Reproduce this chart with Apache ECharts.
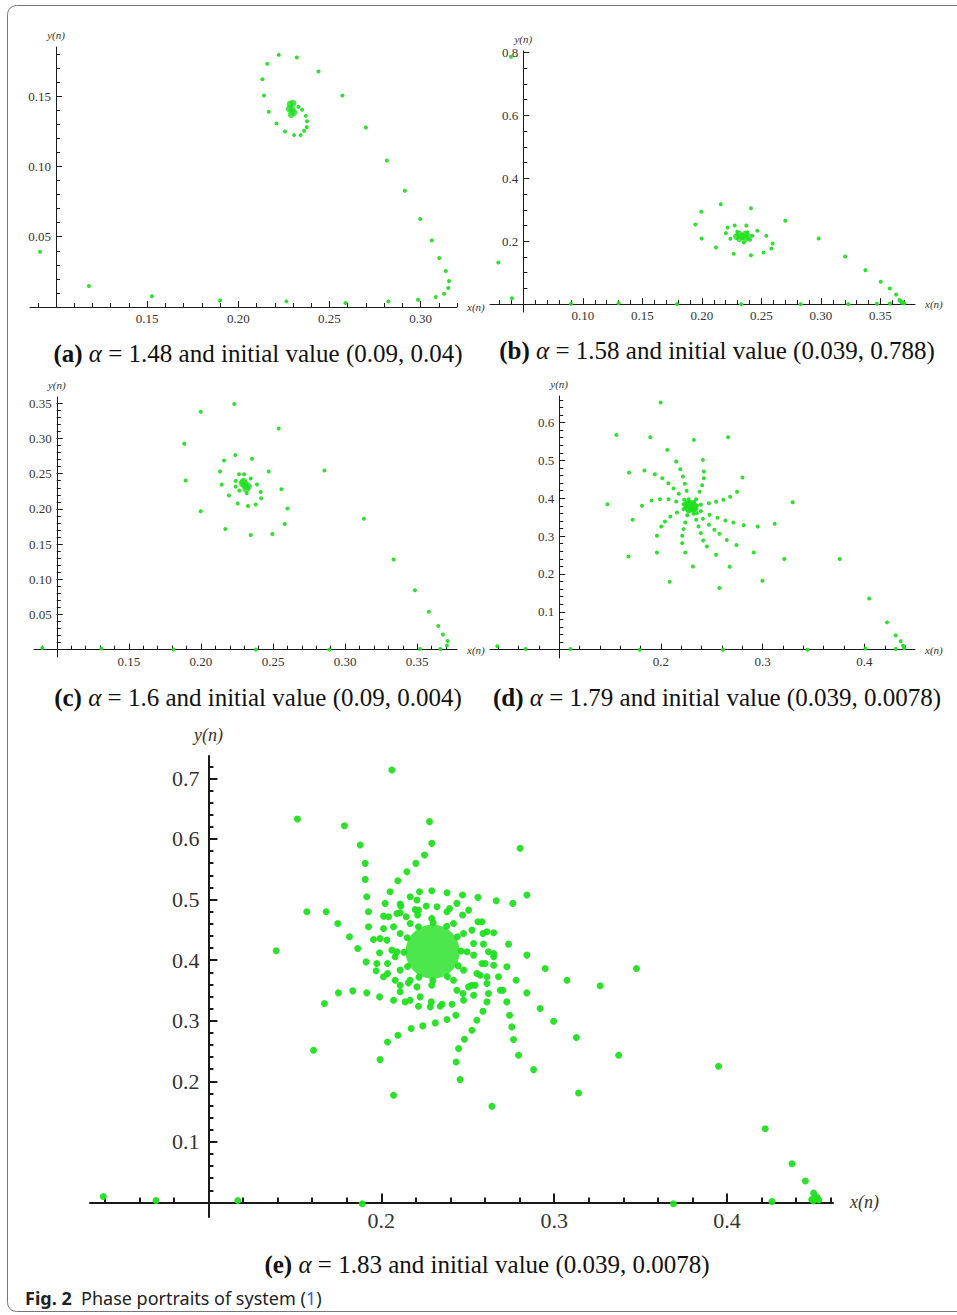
<!DOCTYPE html>
<html>
<head>
<meta charset="utf-8">
<script src="https://cdn.jsdelivr.net/npm/echarts@6.0.0/dist/echarts.min.js"></script>
<style>
  html, body { margin: 0; padding: 0; background: #fff; }
  #chart { width: 957px; height: 1315px; }
</style>
</head>
<body>
<div id="chart"></div>
<script>
// phase portraits, values
const ptsA = [
  [0.0912,0.0393],[0.118,0.0149],[0.1526,0.0076],[0.190,0.0047],[0.2264,0.0040],[0.2588,0.0028],
  [0.2823,0.0040],[0.2986,0.0052],[0.3083,0.0071],[0.3129,0.0095],[0.3152,0.0135],[0.3156,0.0185],
  [0.3139,0.0256],[0.3103,0.0348],[0.3062,0.0474],[0.2998,0.0626],[0.2914,0.0827],[0.2815,0.1043],
  [0.2700,0.1277],[0.2571,0.1505],[0.2440,0.1675],[0.2321,0.1775],[0.2222,0.1794],[0.2159,0.1730],
  [0.2132,0.1621],[0.2141,0.1505],[0.2167,0.1389],[0.2209,0.1306],[0.2256,0.1249],[0.2306,0.1223],
  [0.2342,0.1223],[0.2361,0.1254],[0.2375,0.1280],[0.2377,0.1322],[0.2370,0.1360],[0.2350,0.1403],
  [0.2330,0.1425]
];
const coreA = [[0.2295,0.1405],[0.2285,0.1445],[0.2300,0.1450],[0.2290,0.1370],[0.2305,0.1385],[0.2280,0.1410]];

const ptsB = [
  [0.0396,0.787],[0.029,0.1325],[0.0404,0.019],[0.090,0.001],[0.130,0.003],[0.179,0.0],[0.233,0.0],
  [0.283,0.0],[0.323,0.0],[0.347,0.001],[0.358,0.002],
  [0.369,0.006],[0.367,0.009],[0.368,0.004],[0.366,0.013],[0.370,0.003],
  [0.3631,0.0307],[0.3578,0.0498],[0.3502,0.0710],[0.3374,0.1081],[0.3203,0.1515],[0.2980,0.2087],
  [0.2700,0.2649],[0.2412,0.3052],[0.2158,0.3179],[0.1995,0.2935],[0.1945,0.2532],[0.1998,0.2087],
  [0.2118,0.1801],[0.2267,0.1600],[0.2412,0.1558],[0.2518,0.1642],[0.2583,0.1770],[0.2594,0.1928],
  [0.2541,0.2172],[0.2465,0.2331],[0.2373,0.2501],[0.2275,0.2501],[0.2216,0.2437],[0.2202,0.2257],
  [0.2239,0.2077],[0.2353,0.1960],[0.2404,0.2045],[0.2423,0.2172],[0.2381,0.2289],[0.2297,0.2299]
];
const coreB = [[0.2339,0.2151],[0.2290,0.2151],[0.2388,0.2151],[0.2315,0.2220],[0.2365,0.2220],[0.2315,0.2090],[0.2365,0.2090]];

const ptsC = [
  [0.090,0.0024],[0.131,0.0014],[0.181,0.0],[0.238,0.0],[0.289,0.0],[0.352,0.001],[0.366,0.001],
  [0.3706,0.0057],[0.3711,0.0123],[0.3678,0.0214],[0.3646,0.0337],[0.3581,0.0537],[0.3484,0.0845],
  [0.3336,0.1282],[0.3130,0.1861],[0.2856,0.2545],[0.2539,0.3143],[0.2231,0.3490],[0.1998,0.3381],
  [0.1884,0.2925],[0.1894,0.2403],[0.1998,0.1966],[0.2169,0.1714],[0.2345,0.1629],[0.2495,0.1643],
  [0.2581,0.1785],[0.2600,0.2004],[0.2558,0.2279],[0.2470,0.2531],[0.2354,0.2711],[0.2238,0.2764],
  [0.2160,0.2688],[0.2132,0.2531],[0.2144,0.2346],[0.2194,0.2189],[0.2255,0.2075],[0.2326,0.2042],
  [0.2380,0.2061],[0.2417,0.2151],[0.2414,0.2241],[0.2389,0.2346],[0.2345,0.2431],[0.2299,0.2493],
  [0.2264,0.2493],[0.2241,0.2398],[0.2241,0.2317],[0.2266,0.2260],[0.2317,0.2222]
];
const coreC = [[0.2306,0.2341],[0.2290,0.2365],[0.2325,0.2320],[0.2315,0.2290],[0.2296,0.2385]];

const ptsD = [
  [0.0392,0.0088],[0.067,0.002],[0.111,0.002],[0.179,0.0],[0.261,0.0],[0.344,0.0],[0.401,0.003],
  [0.4307,0.0018],[0.4390,0.0035],[0.4379,0.0106],[0.4356,0.0220],[0.4307,0.0378],[0.4222,0.0721],
  [0.4046,0.1354],[0.3758,0.2392],[0.3294,0.3896],
  [0.1997,0.6526],[0.1562,0.5673],[0.1895,0.5611],[0.2324,0.5541],[0.2660,0.5611],[0.1686,0.4679],
  [0.1474,0.3843],[0.1722,0.3430],[0.1680,0.2463],[0.2314,0.2199],[0.2085,0.1794],[0.2542,0.2507],
  [0.2676,0.2190],[0.2575,0.1627],[0.2997,0.1821],[0.3212,0.2392],[0.2912,0.2568],
  [0.1837,0.4732],[0.1941,0.4635],[0.2013,0.4529],[0.2072,0.4398],[0.2124,0.4257],[0.2176,0.4116],[0.2229,0.3958],
  [0.2250,0.3895],[0.2270,0.3840],
  [0.2062,0.5277],[0.2150,0.4969],[0.2190,0.4767],[0.2216,0.4573],[0.2235,0.4380],[0.2252,0.4195],[0.2271,0.3975],
  [0.2278,0.3905],[0.2285,0.3845],
  [0.2412,0.5013],[0.2422,0.4705],[0.2422,0.4529],[0.2405,0.4345],[0.2379,0.4169],[0.2346,0.3975],
  [0.2325,0.3900],[0.2305,0.3840],
  [0.2801,0.4547],[0.2748,0.4169],[0.2680,0.4037],[0.2614,0.3958],[0.2542,0.3905],[0.2471,0.3870],[0.2392,0.3835],
  [0.2355,0.3810],[0.2322,0.3795],
  [0.1814,0.3799],[0.1908,0.3940],[0.1990,0.3975],[0.2075,0.3975],[0.2150,0.3914],[0.2222,0.3843],
  [0.2250,0.3810],[0.2270,0.3795],
  [0.1961,0.2568],[0.1961,0.3008],[0.2003,0.3254],[0.2039,0.3386],[0.2092,0.3518],[0.2157,0.3624],[0.2222,0.3712],
  [0.2245,0.3735],[0.2268,0.3760],
  [0.2239,0.2568],[0.2209,0.2814],[0.2209,0.3008],[0.2222,0.3184],[0.2239,0.3360],[0.2258,0.3553],
  [0.2268,0.3650],[0.2280,0.3720],
  [0.2451,0.2726],[0.2415,0.2885],[0.2392,0.3078],[0.2369,0.3254],[0.2346,0.3430],[0.2320,0.3588],
  [0.2305,0.3680],[0.2298,0.3735],
  [0.2742,0.2762],[0.2647,0.2894],[0.2575,0.3061],[0.2526,0.3166],[0.2471,0.3298],[0.2412,0.3456],[0.2353,0.3606],
  [0.2330,0.3680],[0.2310,0.3735],
  [0.3118,0.3325],[0.2951,0.3254],[0.2814,0.3289],[0.2712,0.3360],[0.2634,0.3413],[0.2556,0.3483],[0.2477,0.3562],[0.2392,0.3659],
  [0.2350,0.3720],[0.2318,0.3755]
];
const coreD = [[0.2291,0.3782],[0.2268,0.3800],[0.2314,0.3765],[0.2282,0.3745],[0.2300,0.3822]];

const ptsE = [
  [0.0392,0.0099],[0.0697,0.0033],[0.117,0.0033],[0.189,-0.002],[0.369,-0.002],[0.426,0.0017],
  [0.451,0.006],[0.453,0.004],[0.449,0.005],[0.452,0.009],[0.450,0.003],
  [0.4501,0.0154],[0.4453,0.0353],[0.4376,0.0639],[0.4221,0.1218],[0.3951,0.2248],[0.3476,0.3862],
  [0.3266,0.3576],[0.3373,0.2430],[0.3128,0.2722],[0.3141,0.1807],
  [0.2061,0.714],[0.1515,0.633],[0.1392,0.4154],
  [0.1787,0.6220],[0.2279,0.6287],[0.2803,0.5846],[0.1878,0.5901],[0.2292,0.5928],[0.2250,0.5736],
  [0.2200,0.5598],[0.2148,0.5460],[0.2096,0.5311],[0.2051,0.5130],[0.1907,0.5598],[0.1907,0.5333],
  [0.1916,0.5047],[0.1926,0.4799],[0.1569,0.4799],[0.1681,0.4799],[0.1748,0.4606],[0.1816,0.4386],
  [0.1864,0.4193],[0.1912,0.3972],[0.1970,0.3824],[0.1752,0.3460],[0.1835,0.3493],[0.1916,0.3460],
  [0.1990,0.3394],[0.1671,0.3284],[0.1608,0.2512],[0.1993,0.2358],[0.2036,0.2650],[0.2096,0.2760],
  [0.2071,0.1769],[0.2173,0.2871],[0.2240,0.2915],[0.2312,0.2964],[0.2380,0.3019],[0.2431,0.3091],
  [0.2640,0.1587],[0.2456,0.2028],[0.2433,0.2320],[0.2447,0.2540],[0.2481,0.2694],[0.2524,0.2843],
  [0.2553,0.3008],[0.2588,0.3157],[0.2611,0.3311],[0.2881,0.2193],[0.2794,0.2430],[0.2765,0.2689],
  [0.2755,0.2898],[0.2742,0.3091],[0.2726,0.3311],[0.2703,0.3504],[0.2997,0.2992],[0.2919,0.3201],
  [0.2842,0.3460],[0.2780,0.3669],[0.2726,0.3890],[0.2650,0.4055],[0.2948,0.3862],[0.2842,0.4083],
  [0.2736,0.4264],[0.2650,0.4452],[0.2559,0.4634],[0.2842,0.5074],[0.2761,0.4937],[0.2665,0.4981],
  [0.2559,0.5036],[0.2470,0.5074],[0.2380,0.5113],[0.2292,0.5146],[0.2221,0.5130],[0.2167,0.5047],
  [0.3074,0.3669],
  [0.2022,0.4937],[0.2113,0.4893],[0.2196,0.4837],[0.2260,0.4893],[0.2322,0.4882],[0.2395,0.4854],
  [0.2013,0.4727],[0.2090,0.4771],[0.2144,0.4716],[0.2210,0.4744],[0.2470,0.4744],
  [0.1926,0.4551],[0.2013,0.4523],[0.2071,0.4551],[0.2524,0.4496],[0.2588,0.4441],
  [0.1955,0.4342],[0.2032,0.4331],[0.2061,0.4165],[0.2534,0.4275],[0.2591,0.4264],[0.2650,0.4110],
  [0.1990,0.4121],[0.2036,0.3945],[0.2080,0.4055],[0.2534,0.4083],[0.2582,0.3945],[0.2650,0.3917],
  [0.2036,0.3780],[0.2080,0.3669],[0.2553,0.3780],[0.2611,0.3725],[0.2678,0.3725],
  [0.2109,0.3587],[0.2157,0.3625],[0.2206,0.3559],[0.2437,0.3504],[0.2505,0.3559],[0.2543,0.3587],
  [0.2611,0.3614],[0.2688,0.3504],
  [0.2071,0.3339],[0.2138,0.3311],[0.2215,0.3240],[0.2283,0.3229],[0.2341,0.3240],[0.2409,0.3273],
  [0.2476,0.3339],[0.2534,0.3421],[0.2620,0.3449],
  [0.2109,0.4441],[0.2090,0.4138],[0.2109,0.3835],[0.2167,0.3669],[0.2292,0.3587],[0.2418,0.3669],
  [0.2476,0.3835],[0.2495,0.4138],[0.2476,0.4441],[0.2418,0.4606],[0.2292,0.4689],[0.2167,0.4606],
  [0.2109,0.4782],[0.2215,0.4826],[0.2380,0.4799],
  [0.1993,0.4358],[0.2225,0.3394],[0.2289,0.3311],[0.2351,0.3273],[0.2472,0.3449],[0.2524,0.3587],
  [0.2572,0.3752],[0.2601,0.3945],[0.2620,0.4138],[0.2611,0.4468],[0.2582,0.4634],[0.2505,0.4826],
  [0.2437,0.4937],[0.2206,0.4992],[0.2109,0.4926],[0.2042,0.4716],[0.1974,0.3945],[0.2013,0.3725],
  [0.2109,0.3477],[0.2167,0.3339],
  // dots along the rim of the dense centre
  [0.2462,0.4150],[0.2440,0.4385],[0.2378,0.4560],[0.2300,0.4615],[0.2215,0.4550],[0.2150,0.4370],
  [0.2130,0.4130],[0.2152,0.3895],[0.2218,0.3720],[0.2298,0.3665],[0.2383,0.3728],[0.2445,0.3905]
];
const coreE = [[0.2297,0.4140]];

// tick labels
const xMajorA = [0.15, 0.20, 0.25, 0.30];
const yMajorA = [0.05, 0.10, 0.15];
const xMajorB = [0.10, 0.15, 0.20, 0.25, 0.30, 0.35];
const yMajorB = [0.2, 0.4, 0.6, 0.8];
const xMajorC = [0.15, 0.20, 0.25, 0.30, 0.35];
const yMajorC = [0.05, 0.10, 0.15, 0.20, 0.25, 0.30, 0.35];
const xMajorD = [0.2, 0.3, 0.4];
const yMajorD = [0.1, 0.2, 0.3, 0.4, 0.5, 0.6];
const xMajorE = [0.2, 0.3, 0.4];
const yMajorE = [0.1, 0.2, 0.3, 0.4, 0.5, 0.6, 0.7];

const captions = [
  { tag: '(a)', alpha: '1.48', init: '(0.09, 0.04)' },
  { tag: '(b)', alpha: '1.58', init: '(0.039, 0.788)' },
  { tag: '(c)', alpha: '1.6', init: '(0.09, 0.004)' },
  { tag: '(d)', alpha: '1.79', init: '(0.039, 0.0078)' },
  { tag: '(e)', alpha: '1.83', init: '(0.039, 0.0078)' }
];

function range(a, b, step) {
  const out = [];
  for (let v = a; v <= b + 1e-9; v += step) out.push(Math.round(v * 1000) / 1000);
  return out;
}

const GREEN = '#20e020';
const INK = '#1a1a1a';
const SERIF = 'Liberation Serif';

// xr/yr: axis extents, org: where the two axes cross
const panels = [
  { pts: ptsA, core: coreA, xr: [0.0857, 0.320], yr: [0, 0.185], org: [0.10, 0], box: [30, 47, 427, 260],
    xMajor: xMajorA, xMinor: range(0.09, 0.32, 0.01), yMajor: yMajorA, yMinor: range(0.01, 0.18, 0.01),
    dx: 2, dy: 2, fs: 13, nfs: 11, sym: 4, coreSym: 7, tk: [6, 4], lw: 1, nameGap: [10, 7], margin: [5, 5],
    cap: [258, 353] },
  { pts: ptsB, core: coreB, xr: [0.022, 0.379], yr: [-0.025, 0.805], org: [0.05, 0], box: [490, 51, 425, 261],
    xMajor: xMajorB, xMinor: range(0.03, 0.37, 0.01), yMajor: yMajorB, yMinor: range(0.05, 0.80, 0.05),
    dx: 2, dy: 1, fs: 13, nfs: 11, sym: 4, coreSym: 7, tk: [6, 4], lw: 1, nameGap: [10, 7], margin: [5, 5],
    cap: [717, 350] },
  { pts: ptsC, core: coreC, xr: [0.0842, 0.3776], yr: [-0.0105, 0.359], org: [0.10, 0], box: [34, 397, 423, 260],
    xMajor: xMajorC, xMinor: range(0.09, 0.37, 0.01), yMajor: yMajorC, yMinor: range(0.01, 0.35, 0.01),
    dx: 2, dy: 2, fs: 13, nfs: 11, sym: 4, coreSym: 8, tk: [6, 4], lw: 1, nameGap: [10, 7], margin: [5, 5],
    cap: [258, 697] },
  { pts: ptsD, core: coreD, xr: [0.032, 0.4497], yr: [-0.022, 0.670], org: [0.10, 0], box: [490, 396, 425, 262],
    xMajor: xMajorD, xMinor: range(0.04, 0.44, 0.02), yMajor: yMajorD, yMinor: range(0.02, 0.66, 0.02),
    dx: 1, dy: 1, fs: 13, nfs: 11, sym: 4, coreSym: 10, tk: [6, 4], lw: 1, nameGap: [10, 7], margin: [5, 5],
    cap: [717, 697] },
  { pts: ptsE, core: coreE, xr: [0.0315, 0.4613], yr: [-0.024, 0.737], org: [0.10, 0], box: [90, 756, 743, 461],
    xMajor: xMajorE, xMinor: range(0.04, 0.46, 0.02), yMajor: yMajorE, yMinor: range(0.02, 0.72, 0.02),
    dx: 1, dy: 1, fs: 22, nfs: 18, sym: 7, coreSym: 54, tk: [9, 5], lw: 2, nameGap: [17, 12], margin: [7, 9],
    cap: [487, 1264] }
];

const grid = [], xAxis = [], yAxis = [], series = [], graphic = [];

// page frame
graphic.push({
  type: 'rect', z: -1, silent: true,
  shape: { x: 7.5, y: 5.5, width: 1000, height: 1306, r: 9 },
  style: { fill: 'none', stroke: '#777', lineWidth: 1 }
});

panels.forEach((p, i) => {
  grid.push({ left: p.box[0], top: p.box[1], width: p.box[2], height: p.box[3], outerBoundsMode: 'none' });
  // move each axis from the grid edge to the crossing point
  const yOff = -(p.org[0] - p.xr[0]) / (p.xr[1] - p.xr[0]) * p.box[2];
  const xOff = -(p.org[1] - p.yr[0]) / (p.yr[1] - p.yr[0]) * p.box[3];
  const base = { type: 'value', gridIndex: i, splitLine: { show: false }, axisPointer: { show: false } };
  const line = show => ({ onZero: false, lineStyle: { color: INK, width: p.lw, opacity: show ? 1 : 0 } });
  const labelStyle = { color: '#333', fontFamily: SERIF, fontSize: p.fs };
  const nameStyle = { color: '#333', fontFamily: SERIF, fontStyle: 'italic', fontSize: p.nfs };
  const tick = (len, vals) => ({ inside: true, length: len, lineStyle: { color: INK, width: p.lw }, customValues: vals });

  xAxis.push(Object.assign({}, base, {
    min: p.xr[0], max: p.xr[1], position: 'bottom', offset: xOff,
    axisLine: line(true),
    axisTick: tick(p.tk[0], p.xMajor),
    axisLabel: Object.assign({}, labelStyle, { margin: p.margin[0], customValues: p.xMajor,
      formatter: v => v.toFixed(p.dx) }),
    name: 'x(n)', nameLocation: 'end', nameGap: p.nameGap[0], nameTextStyle: nameStyle
  }));
  xAxis.push(Object.assign({}, base, {
    min: p.xr[0], max: p.xr[1], position: 'bottom', offset: xOff,
    axisLine: line(false), axisTick: tick(p.tk[1], p.xMinor), axisLabel: { show: false }
  }));
  yAxis.push(Object.assign({}, base, {
    min: p.yr[0], max: p.yr[1], position: 'left', offset: yOff,
    axisLine: line(true),
    axisTick: tick(p.tk[0], p.yMajor),
    axisLabel: Object.assign({}, labelStyle, { margin: p.margin[1], customValues: p.yMajor,
      formatter: v => v.toFixed(p.dy) }),
    name: 'y(n)', nameLocation: 'end', nameGap: p.nameGap[1], nameTextStyle: nameStyle
  }));
  yAxis.push(Object.assign({}, base, {
    min: p.yr[0], max: p.yr[1], position: 'left', offset: yOff,
    axisLine: line(false), axisTick: tick(p.tk[1], p.yMinor), axisLabel: { show: false }
  }));

  series.push({
    type: 'scatter', xAxisIndex: 2 * i, yAxisIndex: 2 * i, silent: true, z: 3,
    symbolSize: p.sym, itemStyle: { color: GREEN, opacity: 0.95 },
    data: p.pts
  });
  series.push({
    type: 'scatter', xAxisIndex: 2 * i, yAxisIndex: 2 * i, silent: true, z: 3,
    symbolSize: p.coreSym, itemStyle: { color: GREEN },
    data: p.core
  });

  // sub-caption
  const c = captions[i];
  const capFont = { fontFamily: SERIF, fontSize: 25, fill: '#111' };
  graphic.push({
    type: 'text', silent: true, x: p.cap[0], y: p.cap[1],
    style: Object.assign({}, capFont, {
      text: '{b|' + c.tag + '} {i|α} = ' + c.alpha + ' and initial value ' + c.init,
      align: 'center', verticalAlign: 'middle',
      rich: {
        b: Object.assign({}, capFont, { fontWeight: 'bold' }),
        i: Object.assign({}, capFont, { fontStyle: 'italic' })
      }
    })
  });
});

// figure caption
const figFont = { fontFamily: '"Liberation Sans Narrow", "Noto Sans", sans-serif', fontSize: 18, fill: '#222' };
graphic.push({
  type: 'text', silent: true, x: 25, y: 1298,
  style: Object.assign({}, figFont, {
    text: '{b|Fig. 2}  {n|Phase portraits of system (}{l|1}{n|)}',
    align: 'left', verticalAlign: 'middle',
    rich: {
      b: Object.assign({}, figFont, { fontWeight: 'bold' }),
      n: Object.assign({}, figFont),
      l: Object.assign({}, figFont, { fill: '#3b5bd6' })
    }
  })
});

const chart = echarts.init(document.getElementById('chart'), null, { renderer: 'svg' });
chart.setOption({
  animation: false,
  backgroundColor: '#fff',
  grid: grid,
  xAxis: xAxis,
  yAxis: yAxis,
  series: series,
  graphic: graphic
});
</script>
</body>
</html>
